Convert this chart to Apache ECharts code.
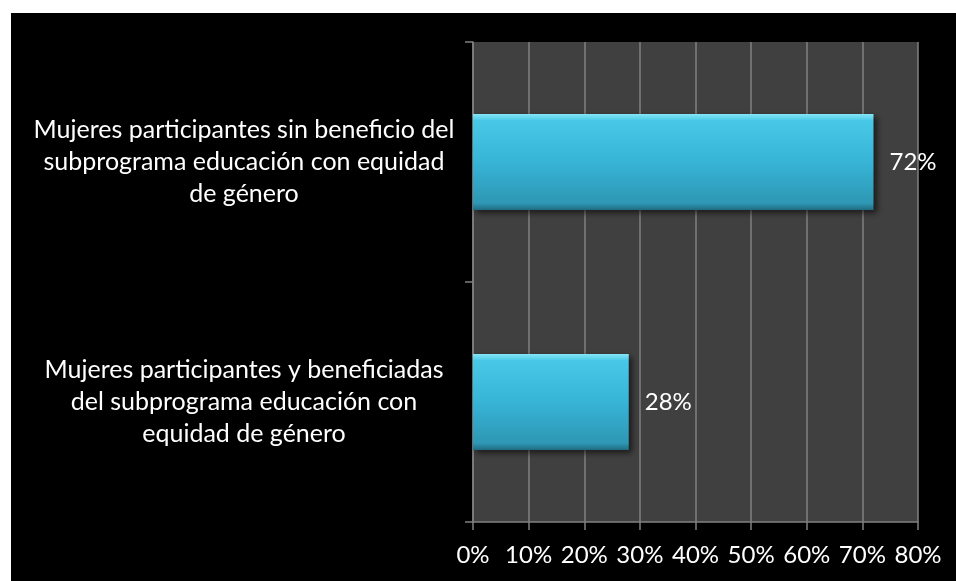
<!DOCTYPE html>
<html>
<head>
<meta charset="utf-8">
<script src="https://cdn.jsdelivr.net/npm/echarts@6/dist/echarts.min.js"></script>
<style>
  html, body { margin: 0; padding: 0; background: #ffffff; width: 956px; height: 581px; overflow: hidden; }
  #chart { position: absolute; left: 11px; top: 13px; width: 945px; height: 568px; background: #000000; }
</style>
</head>
<body>
<div id="chart"></div>
<script>
const categories = [
  'Mujeres participantes sin beneficio del\nsubprograma educación con equidad\nde género',
  'Mujeres participantes y beneficiadas\ndel subprograma educación con\nequidad de género'
];
const values = [0.72, 0.28];
const xTicks = { min: 0, max: 0.8, interval: 0.1 };

const FONT = 'Lato';
const chart = echarts.init(document.getElementById('chart'));
chart.setOption({
  backgroundColor: '#000000',
  animation: false,
  grid: {
    left: 462, top: 29, width: 445, height: 480,
    show: true, backgroundColor: '#404040', borderWidth: 0
  },
  xAxis: {
    type: 'value',
    min: xTicks.min, max: xTicks.max, interval: xTicks.interval,
    axisLine: { show: true, lineStyle: { color: '#808080', width: 1.5 } },
    axisTick: { show: true, length: 8, lineStyle: { color: '#808080', width: 1.5 } },
    splitLine: { show: true, lineStyle: { color: '#808080', width: 1.5 } },
    axisLabel: {
      color: '#ffffff', fontFamily: FONT, fontSize: 24, margin: 21,
      formatter: v => Math.round(v * 100) + '%'
    }
  },
  yAxis: {
    type: 'category',
    data: categories,
    inverse: true,
    axisLine: { show: true, lineStyle: { color: '#808080', width: 1.5 } },
    axisTick: { show: true, length: 8, lineStyle: { color: '#808080', width: 1.5 } },
    splitLine: { show: false },
    axisLabel: {
      color: '#ffffff', fontFamily: FONT, fontSize: 25, lineHeight: 32,
      align: 'center', margin: 229
    }
  },
  series: [{
    type: 'bar',
    data: values,
    barCategoryGap: '60%',
    itemStyle: {
      color: new echarts.graphic.LinearGradient(0, 0, 0, 1, [
        { offset: 0, color: '#86e6f8' },
        { offset: 0.07, color: '#48c8e6' },
        { offset: 0.5, color: '#37b4d7' },
        { offset: 0.93, color: '#2e97b4' },
        { offset: 1, color: '#1f6b80' }
      ]),
      shadowColor: 'rgba(0,0,0,0.6)', shadowBlur: 6, shadowOffsetX: 3, shadowOffsetY: 3
    },
    label: {
      show: true, position: 'right', distance: 16,
      color: '#ffffff', fontFamily: FONT, fontSize: 24,
      formatter: p => Math.round(p.value * 100) + '%'
    }
  }]
});
</script>
</body>
</html>
